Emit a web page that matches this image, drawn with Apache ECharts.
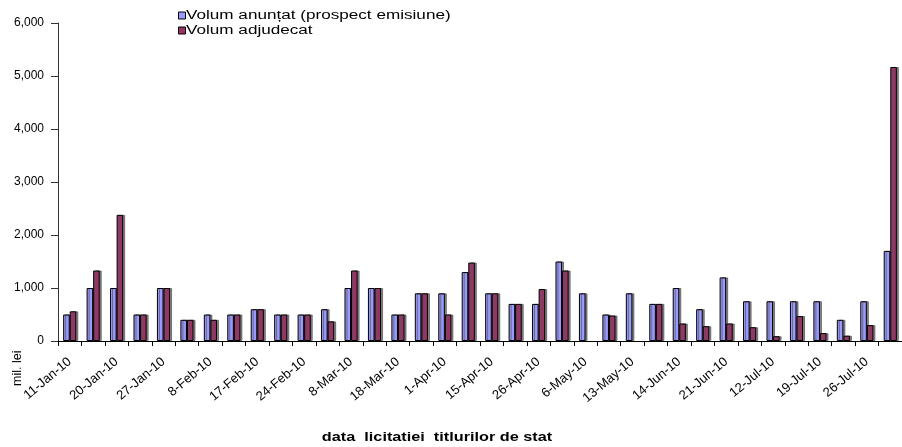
<!DOCTYPE html>
<html>
<head>
<meta charset="utf-8">
<script src="https://cdn.jsdelivr.net/npm/echarts@6/dist/echarts.min.js"></script>
<style>
  html, body { margin: 0; padding: 0; background: #fff; }
  #chart { width: 902px; height: 447px; }
</style>
</head>
<body>
<div id="chart"></div>
<script>
// Auction dates (every other one is labelled on the axis)
var auctionDates = [
  '11-Jan-10', '14-Jan-10', '20-Jan-10', '25-Jan-10', '27-Jan-10', '1-Feb-10',
  '8-Feb-10', '11-Feb-10', '17-Feb-10', '22-Feb-10', '24-Feb-10', '1-Mar-10',
  '8-Mar-10', '11-Mar-10', '18-Mar-10', '25-Mar-10', '1-Apr-10', '8-Apr-10',
  '15-Apr-10', '19-Apr-10', '26-Apr-10', '29-Apr-10', '6-May-10', '10-May-10',
  '13-May-10', '7-Jun-10', '14-Jun-10', '17-Jun-10', '21-Jun-10', '28-Jun-10',
  '12-Jul-10', '15-Jul-10', '19-Jul-10', '22-Jul-10', '26-Jul-10', '29-Jul-10'
];

// Announced volume (issue prospectus), mil. lei
var announcedVolume = [
  500, 1000, 1000, 500, 1000, 400, 500, 500, 600, 500, 500, 600,
  1000, 1000, 500, 900, 900, 1300, 900, 700, 700, 1500, 900, 500,
  900, 700, 1000, 600, 1200, 750, 750, 750, 750, 400, 750, 1700
];

// Awarded volume, mil. lei (null = nothing awarded)
var awardedVolume = [
  560, 1330, 2380, 500, 1000, 400, 400, 500, 600, 500, 500, 370,
  1330, 1000, 500, 900, 500, 1480, 900, 700, 980, 1330, null, 480,
  null, 700, 330, 280, 330, 260, 90, 470, 150, 100, 300, 5170
];

var yTicks = { min: 0, max: 6000, step: 1000 };

var seriesNames = ['Volum anunțat (prospect emisiune)', 'Volum adjudecat'];
var seriesColors = ['#9999FF', '#993366'];

var font = "'Liberation Sans', Arial, sans-serif";

var chart = echarts.init(document.getElementById('chart'), null, { renderer: 'canvas' });

function barStyle(color) {
  return {
    color: color,
    borderColor: '#000',
    borderWidth: 1,
    shadowColor: 'rgba(90,90,90,0.75)',
    shadowOffsetX: 2,
    shadowOffsetY: 0,
    shadowBlur: 0
  };
}

// Legend drawn as a small group: bordered square + widened caption per series
function legendItems() {
  var items = [];
  var rowY = [15.5, 30.5];
  seriesNames.forEach(function (name, i) {
    items.push({
      type: 'rect',
      shape: { x: 178.5, y: rowY[i] - 3.5, width: 7, height: 7 },
      style: { fill: seriesColors[i], stroke: '#000', lineWidth: 1 }
    });
    items.push({
      type: 'text',
      x: 186,
      y: rowY[i],
      scaleX: 1.37,
      style: { text: name, font: '12.5px ' + font, fill: '#000', textAlign: 'left', textVerticalAlign: 'middle' }
    });
  });
  return items;
}

chart.setOption({
  animation: false,
  backgroundColor: '#fff',
  textStyle: { fontFamily: font },
  grid: { left: 58, top: 23, width: 853, height: 318, containLabel: false },
  xAxis: {
    type: 'category',
    data: auctionDates,
    boundaryGap: true,
    axisLine: { lineStyle: { color: '#000', width: 1 } },
    axisTick: { show: true, interval: 0, length: 5, lineStyle: { color: '#000' } },
    axisLabel: {
      interval: 1,
      rotate: 40,
      fontSize: 13,
      color: '#000',
      fontFamily: font,
      margin: 19
    },
    splitLine: { show: false }
  },
  yAxis: {
    type: 'value',
    min: yTicks.min,
    max: yTicks.max,
    interval: yTicks.step,
    axisLine: { show: true, lineStyle: { color: '#333', width: 1 } },
    axisTick: { show: true, length: 7, inside: false, lineStyle: { color: '#333' } },
    axisLabel: {
      fontSize: 12,
      color: '#000',
      fontFamily: font,
      margin: 14,
      formatter: function (v) { return v.toLocaleString('en-US'); }
    },
    splitLine: { show: false }
  },
  series: [
    {
      name: seriesNames[0],
      type: 'bar',
      data: announcedVolume,
      barGap: '0%',
      barCategoryGap: '44%',
      itemStyle: barStyle(seriesColors[0])
    },
    {
      name: seriesNames[1],
      type: 'bar',
      data: awardedVolume,
      barGap: '0%',
      barCategoryGap: '44%',
      itemStyle: barStyle(seriesColors[1])
    }
  ],
  graphic: legendItems().concat([
    {
      type: 'text',
      x: 11,
      y: 386,
      rotation: Math.PI / 2,
      style: { text: 'mil. lei', font: '12.5px ' + font, fill: '#000', textAlign: 'left', textVerticalAlign: 'top' }
    },
    {
      type: 'text',
      x: 437,
      y: 437,
      scaleX: 1.25,
      originX: 0,
      originY: 0,
      style: { text: 'data  licitatiei  titlurilor de stat', font: 'bold 13px ' + font, fill: '#000', textAlign: 'center', textVerticalAlign: 'middle' }
    }
  ])
});
</script>
</body>
</html>
